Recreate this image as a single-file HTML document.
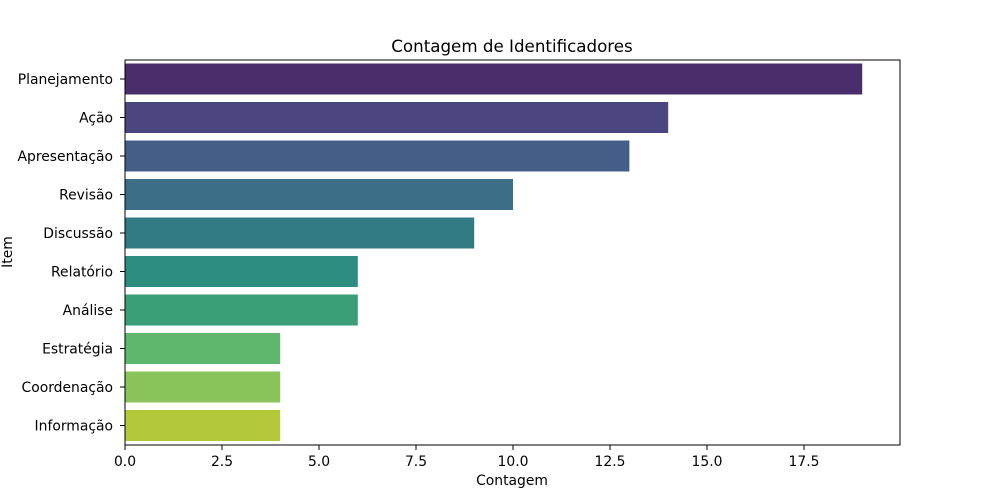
<!DOCTYPE html>
<html><head><meta charset="utf-8"><style>body{margin:0;background:#fff}svg{display:block}text{font-family:"DejaVu Sans","Liberation Sans",sans-serif;fill:#000}</style></head>
<body>
<svg width="1000" height="500" viewBox="0 0 1000 500">
<rect width="1000" height="500" fill="#fff"/>
<g>
<rect x="125" y="63.5" width="737.2" height="31" fill="#4a2d6b"/>
<rect x="125" y="102" width="543.2" height="31" fill="#4b4580"/>
<rect x="125" y="140.5" width="504.4" height="31" fill="#445e88"/>
<rect x="125" y="179" width="388" height="31" fill="#3c6f87"/>
<rect x="125" y="217.5" width="349.2" height="31" fill="#327b82"/>
<rect x="125" y="256" width="232.8" height="31" fill="#2c8c7f"/>
<rect x="125" y="294.5" width="232.8" height="31" fill="#3a9f77"/>
<rect x="125" y="333" width="155.2" height="31" fill="#5fb76d"/>
<rect x="125" y="371.5" width="155.2" height="31" fill="#89c35a"/>
<rect x="125" y="410" width="155.2" height="31" fill="#b3c93a"/>
</g>
<rect x="125" y="60" width="775" height="385" fill="none" stroke="#000" stroke-width="1"/>
<g stroke="#000" stroke-width="1">
<line x1="125" y1="445" x2="125" y2="450"/><line x1="222" y1="445" x2="222" y2="450"/><line x1="319" y1="445" x2="319" y2="450"/><line x1="416" y1="445" x2="416" y2="450"/><line x1="513" y1="445" x2="513" y2="450"/><line x1="610" y1="445" x2="610" y2="450"/><line x1="707" y1="445" x2="707" y2="450"/><line x1="804" y1="445" x2="804" y2="450"/>
<line x1="120" y1="79" x2="125" y2="79"/><line x1="120" y1="117.5" x2="125" y2="117.5"/><line x1="120" y1="156" x2="125" y2="156"/><line x1="120" y1="194.5" x2="125" y2="194.5"/><line x1="120" y1="233" x2="125" y2="233"/><line x1="120" y1="271.5" x2="125" y2="271.5"/><line x1="120" y1="310" x2="125" y2="310"/><line x1="120" y1="348.5" x2="125" y2="348.5"/><line x1="120" y1="387" x2="125" y2="387"/><line x1="120" y1="425.5" x2="125" y2="425.5"/>
</g>
<g font-size="13.9" text-anchor="middle">
<text x="125" y="466">0.0</text><text x="222" y="466">2.5</text><text x="319" y="466">5.0</text><text x="416" y="466">7.5</text><text x="513" y="466">10.0</text><text x="610" y="466">12.5</text><text x="707" y="466">15.0</text><text x="804" y="466">17.5</text>
</g>
<g font-size="13.9" text-anchor="end">
<text x="113" y="84">Planejamento</text><text x="113" y="122.5">Ação</text><text x="113" y="161">Apresentação</text><text x="113" y="199.5">Revisão</text><text x="113" y="238">Discussão</text><text x="113" y="276.5">Relatório</text><text x="113" y="315">Análise</text><text x="113" y="353.5">Estratégia</text><text x="113" y="392">Coordenação</text><text x="113" y="430.5">Informação</text>
</g>
<text x="512" y="485" font-size="13.9" text-anchor="middle">Contagem</text>
<text x="12" y="252" font-size="13.9" text-anchor="middle" transform="rotate(-90 12 252)">Item</text>
<text x="512" y="52" font-size="16.7" text-anchor="middle">Contagem de Identificadores</text>
</svg>
</body></html>
